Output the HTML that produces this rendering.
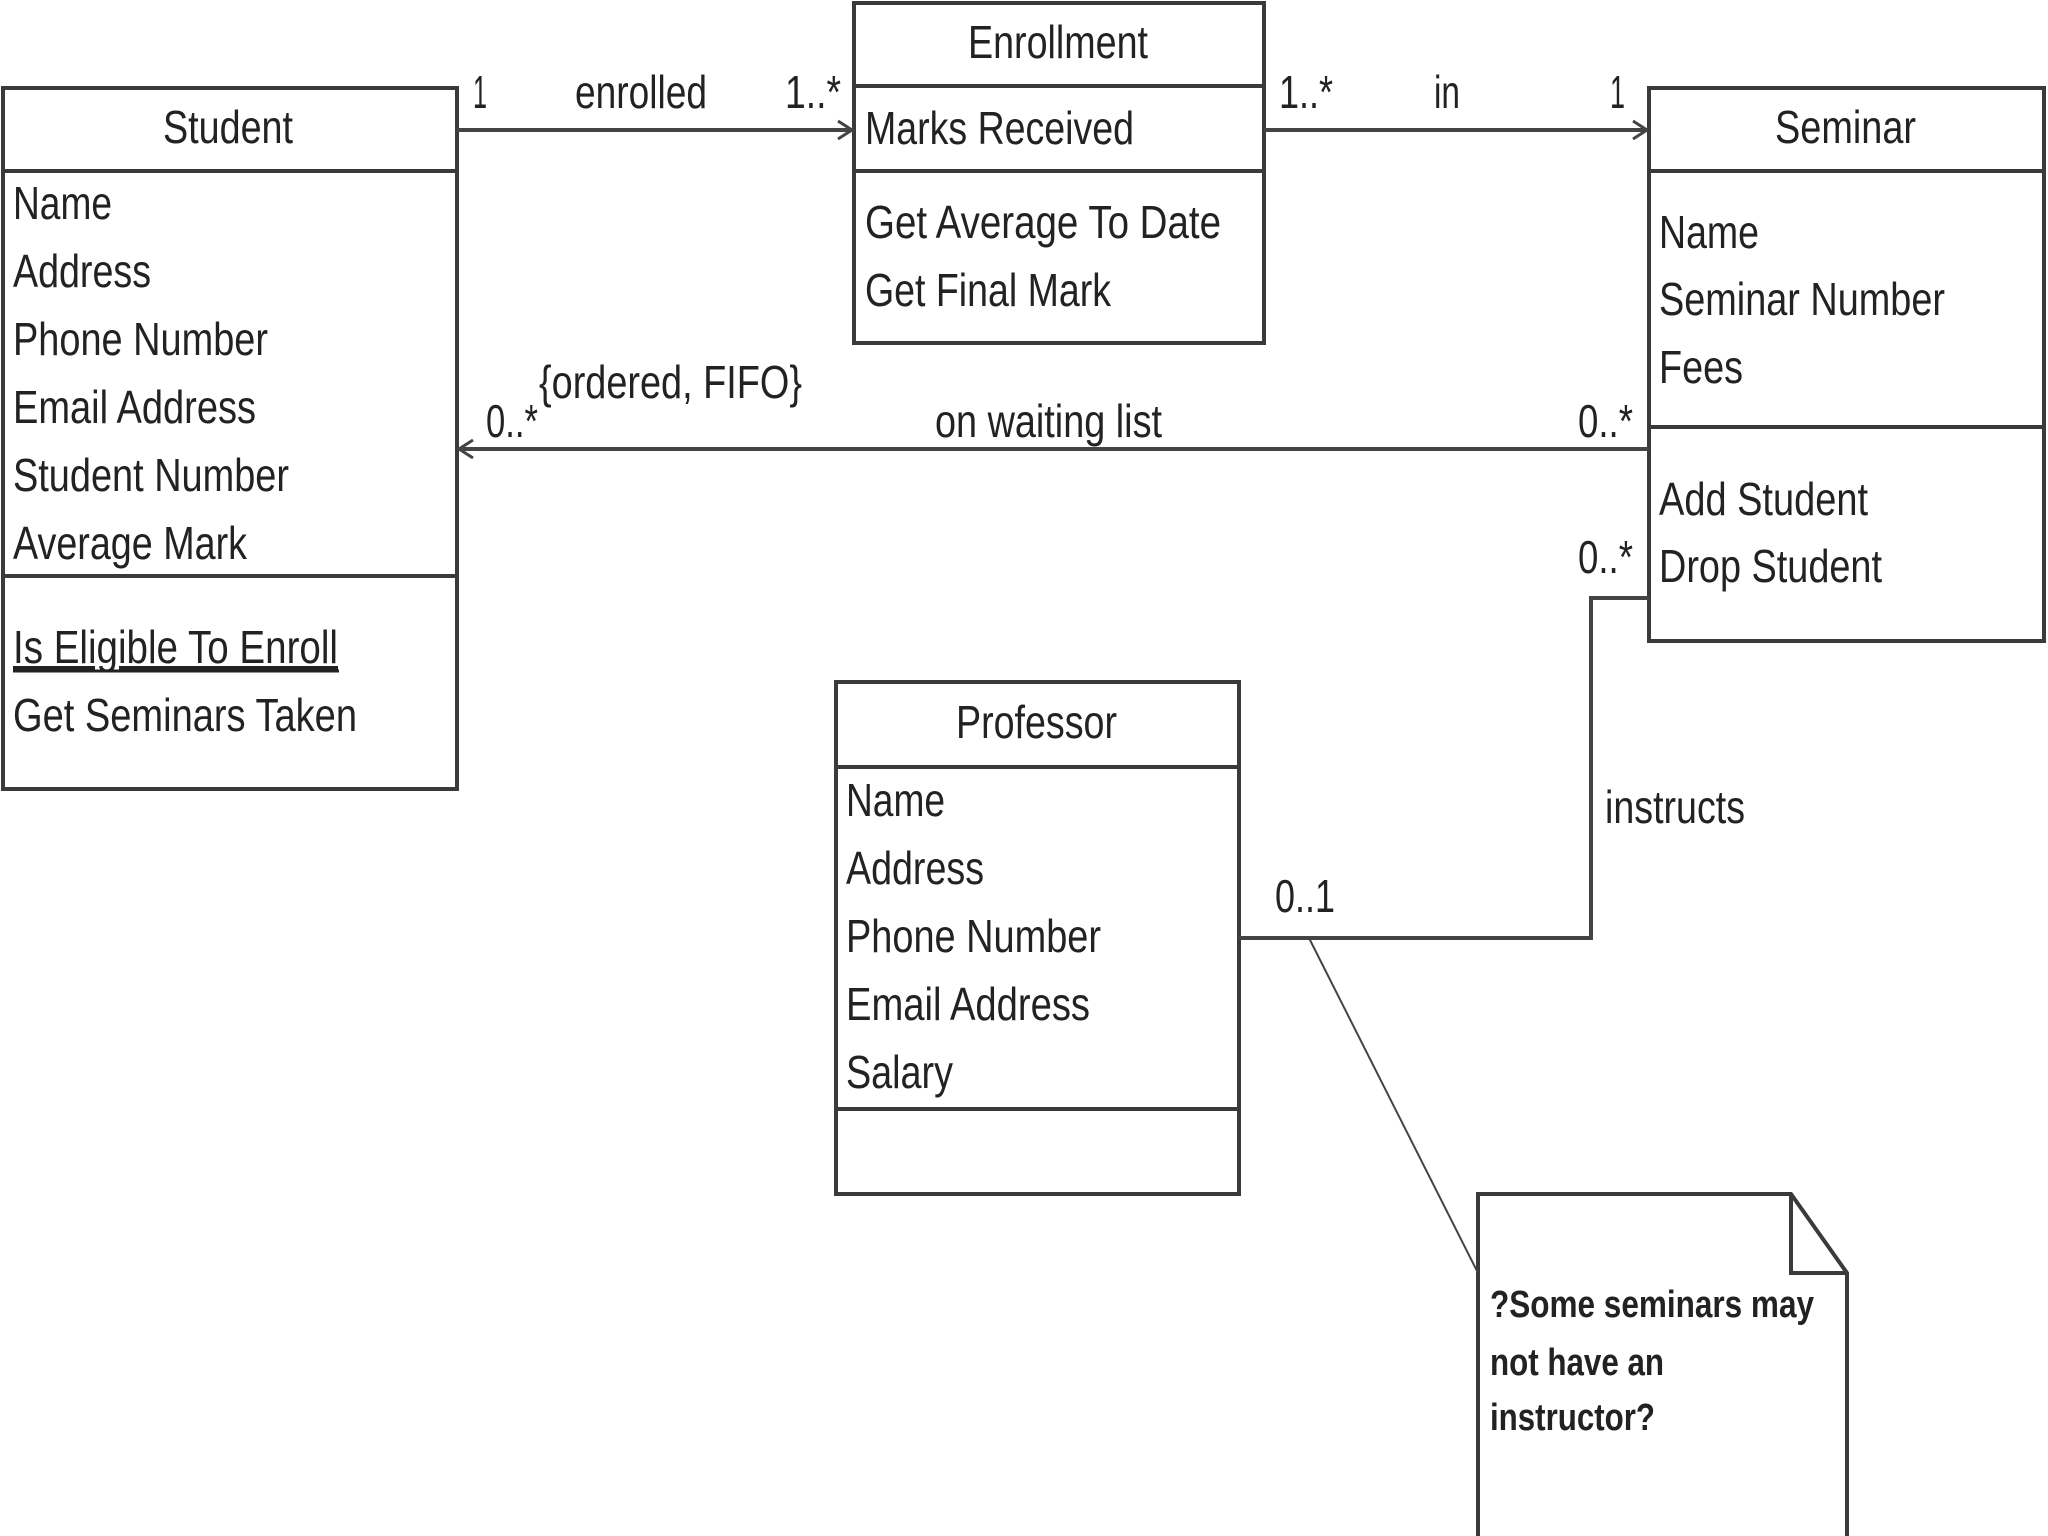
<!DOCTYPE html>
<html><head><meta charset="utf-8"><style>
html,body{margin:0;padding:0;background:#fff}
svg{display:block}
text{font-family:"Liberation Sans",Arial,sans-serif;fill:#222}
</style></head><body>
<svg width="2048" height="1536" viewBox="0 0 2048 1536" xmlns="http://www.w3.org/2000/svg">
<g fill="#fff" stroke="#3a3a3a" stroke-width="4">
<!-- Student -->
<rect x="3" y="88" width="454" height="701"/>
<line x1="3" y1="171" x2="457" y2="171"/>
<line x1="3" y1="576" x2="457" y2="576"/>
<!-- Enrollment -->
<rect x="854" y="3" width="410" height="340"/>
<line x1="854" y1="86" x2="1264" y2="86"/>
<line x1="854" y1="171" x2="1264" y2="171"/>
<!-- Seminar -->
<rect x="1649" y="88" width="395" height="553"/>
<line x1="1649" y1="171" x2="2044" y2="171"/>
<line x1="1649" y1="427" x2="2044" y2="427"/>
<!-- Professor -->
<rect x="836" y="682" width="403" height="512"/>
<line x1="836" y1="767" x2="1239" y2="767"/>
<line x1="836" y1="1109" x2="1239" y2="1109"/>
<!-- Note -->
<path d="M1478 1194 L1791 1194 L1847 1273 L1847 1540 L1478 1540 Z"/>
<path d="M1791 1194 L1791 1273 L1847 1273" fill="none"/>
</g>
<g stroke="#444" stroke-width="4" fill="none">
<line x1="457" y1="130" x2="852" y2="130"/>
<path d="M838 121 L852 130 L838 139" stroke-width="3"/>
<line x1="1264" y1="130" x2="1647" y2="130"/>
<path d="M1633 121 L1647 130 L1633 139" stroke-width="3"/>
<line x1="459" y1="449" x2="1649" y2="449"/>
<path d="M473 440 L459 449 L473 458" stroke-width="3"/>
<polyline points="1649,598 1591,598 1591,938 1239,938"/>
<line x1="1309" y1="938" x2="1478" y2="1273" stroke-width="2"/>
</g>
<g font-size="46">
<text x="163" y="143" textLength="130" lengthAdjust="spacingAndGlyphs">Student</text>
<text x="13" y="219" textLength="99" lengthAdjust="spacingAndGlyphs">Name</text>
<text x="13" y="287" textLength="138" lengthAdjust="spacingAndGlyphs">Address</text>
<text x="13" y="355" textLength="255" lengthAdjust="spacingAndGlyphs">Phone Number</text>
<text x="13" y="423" textLength="243" lengthAdjust="spacingAndGlyphs">Email Address</text>
<text x="13" y="491" textLength="276" lengthAdjust="spacingAndGlyphs">Student Number</text>
<text x="13" y="559" textLength="234" lengthAdjust="spacingAndGlyphs">Average Mark</text>
<text x="13" y="663" textLength="325" lengthAdjust="spacingAndGlyphs" text-decoration="underline">Is Eligible To Enroll</text>
<line x1="13" y1="671" x2="339" y2="671" stroke="#222" stroke-width="3"/>
<text x="13" y="731" textLength="344" lengthAdjust="spacingAndGlyphs">Get Seminars Taken</text>

<text x="968" y="58" textLength="180" lengthAdjust="spacingAndGlyphs">Enrollment</text>
<text x="865" y="144" textLength="269" lengthAdjust="spacingAndGlyphs">Marks Received</text>
<text x="865" y="238" textLength="356" lengthAdjust="spacingAndGlyphs">Get Average To Date</text>
<text x="865" y="306" textLength="246" lengthAdjust="spacingAndGlyphs">Get Final Mark</text>

<text x="1775" y="143" textLength="141" lengthAdjust="spacingAndGlyphs">Seminar</text>
<text x="1659" y="248" textLength="100" lengthAdjust="spacingAndGlyphs">Name</text>
<text x="1659" y="315" textLength="286" lengthAdjust="spacingAndGlyphs">Seminar Number</text>
<text x="1659" y="383" textLength="84" lengthAdjust="spacingAndGlyphs">Fees</text>
<text x="1659" y="515" textLength="209" lengthAdjust="spacingAndGlyphs">Add Student</text>
<text x="1659" y="582" textLength="223" lengthAdjust="spacingAndGlyphs">Drop Student</text>

<text x="956" y="738" textLength="161" lengthAdjust="spacingAndGlyphs">Professor</text>
<text x="846" y="816" textLength="99" lengthAdjust="spacingAndGlyphs">Name</text>
<text x="846" y="884" textLength="138" lengthAdjust="spacingAndGlyphs">Address</text>
<text x="846" y="952" textLength="255" lengthAdjust="spacingAndGlyphs">Phone Number</text>
<text x="846" y="1020" textLength="244" lengthAdjust="spacingAndGlyphs">Email Address</text>
<text x="846" y="1088" textLength="107" lengthAdjust="spacingAndGlyphs">Salary</text>

<text x="473" y="108" textLength="14" lengthAdjust="spacingAndGlyphs">1</text>
<text x="575" y="108" textLength="132" lengthAdjust="spacingAndGlyphs">enrolled</text>
<text x="785" y="108" textLength="56" lengthAdjust="spacingAndGlyphs">1..*</text>
<text x="1279" y="108" textLength="54" lengthAdjust="spacingAndGlyphs">1..*</text>
<text x="1434" y="108" textLength="26" lengthAdjust="spacingAndGlyphs">in</text>
<text x="1610" y="108" textLength="15" lengthAdjust="spacingAndGlyphs">1</text>
<text x="1578" y="437" textLength="55" lengthAdjust="spacingAndGlyphs">0..*</text>
<text x="935" y="437" textLength="227" lengthAdjust="spacingAndGlyphs">on waiting list</text>
<text x="486" y="437" textLength="52" lengthAdjust="spacingAndGlyphs">0..*</text>
<text x="539" y="398" textLength="263" lengthAdjust="spacingAndGlyphs">{ordered, FIFO}</text>
<text x="1578" y="573" textLength="55" lengthAdjust="spacingAndGlyphs">0..*</text>
<text x="1605" y="823" textLength="140" lengthAdjust="spacingAndGlyphs">instructs</text>
<text x="1275" y="912" textLength="60" lengthAdjust="spacingAndGlyphs">0..1</text>
</g>
<g font-size="38" font-weight="bold">
<text x="1490" y="1317" textLength="324" lengthAdjust="spacingAndGlyphs">?Some seminars may</text>
<text x="1490" y="1375" textLength="174" lengthAdjust="spacingAndGlyphs">not have an</text>
<text x="1490" y="1430" textLength="165" lengthAdjust="spacingAndGlyphs">instructor?</text>
</g>
</svg>
</body></html>
